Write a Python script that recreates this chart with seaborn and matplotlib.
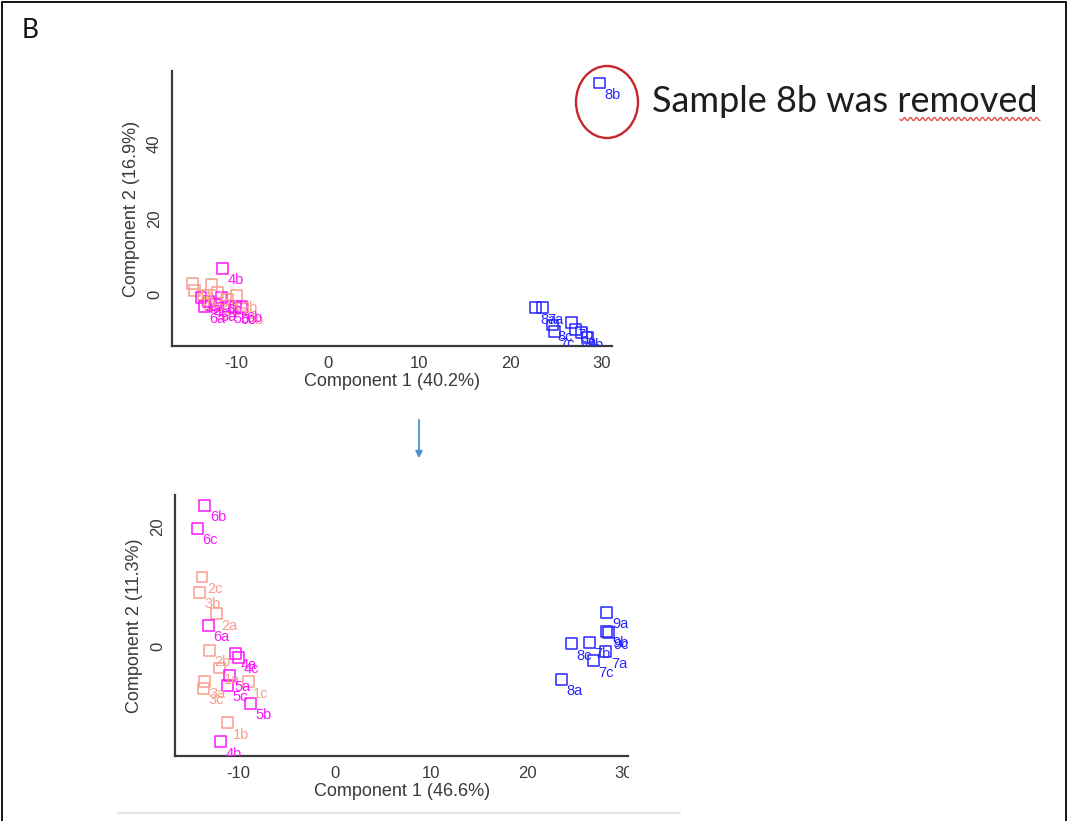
import numpy as np
import pandas as pd
import matplotlib
matplotlib.use("Agg")
import matplotlib.pyplot as plt
import seaborn as sns
from matplotlib.patches import Ellipse, Rectangle, FancyArrowPatch
from matplotlib.lines import Line2D
from matplotlib.ticker import MultipleLocator, FuncFormatter
from matplotlib.transforms import Bbox, TransformedBbox

#score plot with all samples (top)
top_samples = ['1a', '1b', '1c', '2a', '2b', '2c', '3a', '3b', '3c',
               '4a', '4b', '4c', '5a', '5b', '5c', '6a', '6b', '6c',
               '7a', '7b', '7c', '8a', '8b', '8c', '9a', '9b', '9c']
top_pc1 = [-14.8, -14.6, -12.7, -12.1, -10.0, -13.6, -12.9, -9.4, -11.0,
           -13.9, -11.5, -13.1, -12.3, -10.9, -10.1, -13.5, -9.5, -11.7,
           23.5, 26.7, 24.8, 22.7, 29.7, 24.6, 27.1, 27.8, 28.4]
top_pc2 = [2.7, 1.0, 2.5, 0.3, -0.5, -0.3, -2.8, -3.8, -1.4,
           -0.9, 6.9, -2.0, -2.9, -3.4, -3.7, -3.4, -3.3, -1.0,
           -3.7, -7.7, -10.1, -3.7, 56.3, -8.3, -9.6, -10.4, -11.7]

#score plot after removing 8b (bottom)
bot_samples = ['1a', '1b', '1c', '2a', '2b', '2c', '3a', '3b', '3c',
               '4a', '4b', '4c', '5a', '5b', '5c', '6a', '6b', '6c',
               '7a', '7b', '7c', '8a', '8c', '9a', '9b', '9c']
bot_pc1 = [-12.0, -11.1, -9.0, -12.3, -13.0, -13.8, -13.5, -14.1, -13.6,
           -10.3, -11.9, -10.0, -10.9, -8.8, -11.1, -13.1, -13.5, -14.3,
           28.2, 26.5, 26.9, 23.6, 24.6, 28.3, 28.3, 28.5]
bot_pc2 = [-3.7, -12.9, -6.0, 5.4, -0.7, 11.6, -6.0, 9.0, -7.1,
           -1.2, -16.1, -1.9, -4.9, -9.6, -6.6, 3.5, 23.7, 19.8,
           -1.0, 0.6, -2.5, -5.6, 0.4, 5.7, 2.5, 2.2]

group_colors = {'1-3': '#f99d8b', '4-6': '#ff14ff', '7-9': '#2727ff'}
axis_color = '#3a3a3a'


def group_of(s):
    n = int(s[0])
    if n <= 3:
        return '1-3'
    if n <= 6:
        return '4-6'
    return '7-9'


def score_plot(ax, samples, pc1, pc2, xlim, ylim, xlab, ylab):
    df = pd.DataFrame({'sample': samples, 'pc1': pc1, 'pc2': pc2})
    df['group'] = df['sample'].apply(group_of)
    sns.scatterplot(data=df, x='pc1', y='pc2', hue='group', palette=group_colors,
                    marker='s', s=62, linewidth=1.1, legend=False, ax=ax)
    #make the squares hollow
    pts = ax.collections[-1]
    fc = pts.get_facecolors()
    pts.set_edgecolors(fc)
    pts.set_facecolors('none')
    #sample names next to the squares
    for _, r in df.iterrows():
        ax.annotate(r['sample'], (r['pc1'], r['pc2']), xytext=(5, -5),
                    textcoords='offset pixels', ha='left', va='top',
                    fontsize=10.5, color=group_colors[r['group']],
                    annotation_clip=False, clip_on=True)
    ax.set_xlim(xlim)
    ax.set_ylim(ylim)
    ax.xaxis.set_major_locator(MultipleLocator(5))
    ax.xaxis.set_major_formatter(FuncFormatter(
        lambda v, p: str(int(round(v))) if int(round(v)) % 10 == 0 else ''))
    ax.yaxis.set_major_locator(MultipleLocator(5))
    ax.yaxis.set_major_formatter(FuncFormatter(
        lambda v, p: str(int(round(v))) if int(round(v)) % 20 == 0 else ''))
    sns.despine(ax=ax)
    for side in ['left', 'bottom']:
        ax.spines[side].set_color(axis_color)
        ax.spines[side].set_linewidth(1.6)
    ax.tick_params(direction='out', length=4, width=1.4, color=axis_color,
                   labelsize=12, labelcolor=axis_color, pad=3)
    ax.tick_params(axis='y', labelrotation=90)
    for lbl in ax.get_yticklabels():
        lbl.set_va('center')
    ax.set_xlabel(xlab, fontsize=13, color=axis_color, labelpad=2)
    ax.set_ylabel(ylab, fontsize=13, color=axis_color, labelpad=5)
    ax.set_facecolor('none')


def clip_texts(ax, right_px, top=None):
    #labels stop at the x axis and at the right edge of the slide crop
    pos = ax.get_position()
    y1 = pos.y1 if top is None else top
    box = TransformedBbox(Bbox([[pos.x0, pos.y0], [right_px / 1068, y1]]), fig.transFigure)
    for t in ax.texts:
        t.set_clip_box(box)


sns.set_style("white")
plt.rcParams['font.family'] = ['Liberation Sans', 'DejaVu Sans']

fig = plt.figure(figsize=(10.68, 8.21), dpi=100)

ax1 = fig.add_axes([0.1608, 0.5786, 0.4123, 0.3349])
score_plot(ax1, top_samples, top_pc1, top_pc2, (-17.1, 31.1), (-13.9, 59.5),
           'Component 1 (40.2%)', 'Component 2 (16.9%)')
clip_texts(ax1, 640, top=1.0)

ax2 = fig.add_axes([0.1639, 0.0792, 0.4242, 0.3179])
score_plot(ax2, bot_samples, bot_pc1, bot_pc2, (-16.6, 30.5), (-18.5, 25.4),
           'Component 1 (46.6%)', 'Component 2 (11.3%)')
#the bottom panel is cut off on its right side in the slide
cut_x = 628.5 / 1068
for lbl in ax2.get_xticklabels():
    lbl.set_clip_box(TransformedBbox(Bbox([[0, 0], [cut_x, 1]]), fig.transFigure))
    lbl.set_clip_on(True)
clip_texts(ax2, 628.5)

#slide decorations
fig.text(22 / 1068, 1 - 31 / 821, 'B', fontsize=19, va='center', ha='left',
         family=['Lato', 'DejaVu Sans'], color='#111111')
fig.text(652 / 1068, 1 - 101 / 821, 'Sample 8b was removed', fontsize=26,
         va='center', ha='left', family=['Lato', 'DejaVu Sans'], color='#1e1e1e')
fig.add_artist(Ellipse((607 / 1068, 1 - 102 / 821), 62 / 1068, 72 / 821,
                       transform=fig.transFigure, fill=False, ec='#c8242b', lw=1.7))
wx = np.linspace(900, 1040, 200)
wy = 119 + 1.6 * np.sin((wx - 900) / 6.0 * 2 * np.pi)
fig.add_artist(Line2D(wx / 1068, 1 - wy / 821, transform=fig.transFigure,
                      color='#e0403a', lw=0.9))
fig.add_artist(FancyArrowPatch((419 / 1068, 1 - 417 / 821), (419 / 1068, 1 - 461 / 821),
                               transform=fig.transFigure, arrowstyle='-|>',
                               mutation_scale=10, color='#4f8fd0', lw=1.3))
fig.add_artist(Line2D([118 / 1068, 680 / 1068], [1 - 813 / 821, 1 - 813 / 821],
                      transform=fig.transFigure, color='#e4e4e4', lw=1.5))
fig.add_artist(Rectangle((1.5 / 1068, -0.01), 1064.5 / 1068, 1.008,
                         transform=fig.transFigure, fill=False, ec='black', lw=1.3))

fig.savefig('out.png', dpi=100)
